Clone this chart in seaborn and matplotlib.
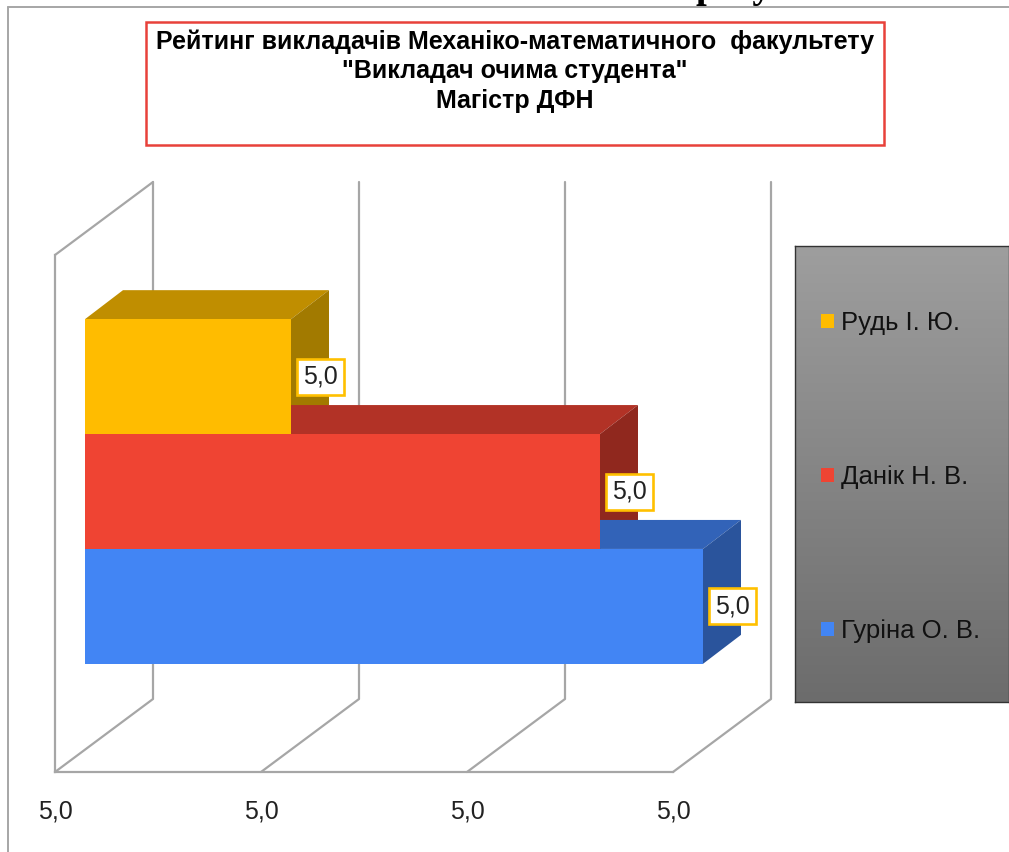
import matplotlib
matplotlib.use("Agg")
import matplotlib.pyplot as plt
import numpy as np
import pandas as pd
import seaborn as sns
from matplotlib.colors import LinearSegmentedColormap
from matplotlib.lines import Line2D
from matplotlib.patches import Patch, Polygon, Rectangle
from matplotlib.transforms import IdentityTransform

teachers = ["Рудь І. Ю.", "Данік Н. В.", "Гуріна О. В."]
ratings = [4.98, 4.995, 5.00]
axis_ticks = [4.97, 4.98, 4.99, 5.00]
front_colors = ["#FFBC00", "#EF4433", "#4285F4"]
top_colors = ["#C08E00", "#B23226", "#3263B8"]
side_colors = ["#A27A00", "#90281E", "#2A549C"]
title_text = 'Рейтинг викладачів Механіко-математичного  факультету\n"Викладач очима студента"\nМагістр ДФН'

W, H = 1009, 852
GRID = "#A6A6A6"
LABEL_EDGE = "#FFC000"

sns.set_theme(style="white")
plt.rcParams["font.family"] = ["Liberation Sans", "DejaVu Sans"]


def box(x0, y0, x1, y1):
    # pixel box measured from the top left -> figure fractions
    return [x0 / W, 1 - y1 / H, (x1 - x0) / W, (y1 - y0) / H]


def fmt(v):
    return f"{v:.1f}".replace(".", ",")


fig = plt.figure(figsize=(W / 100, H / 100), dpi=100, facecolor="white")

# page frame and the cut off heading above it
fig.add_artist(Line2D([8 / W, 1], [1 - 7 / H, 1 - 7 / H], color=GRID, lw=1.4))
fig.add_artist(Line2D([8 / W, 8 / W], [0, 1 - 7 / H], color=GRID, lw=1.4))
fig.text(734 / W, 1 + 2.5 / H, "рсту", family="Liberation Serif", weight="bold",
         fontsize=28, color="black", ha="center", va="baseline")

# title box
fig.add_artist(Rectangle((146 / W, 1 - 145 / H), 738 / W, 123 / H, transform=fig.transFigure,
                         facecolor="white", edgecolor="#E8413A", lw=1.8))
fig.text(515 / W, 1 - 29 / H, title_text, ha="center", va="top", fontsize=18,
         weight="bold", color="black", linespacing=1.3)

# front plane of the chart, holds the axis
ax = fig.add_axes(box(55, 255, 673, 772))
ax.set_xlim(axis_ticks[0], axis_ticks[-1])
ax.set_ylim(0, 1)
ax.patch.set_alpha(0)
ax.set_xticks(axis_ticks)
ax.set_xticklabels([fmt(t) for t in axis_ticks], fontsize=18, color="#222222")
ax.set_yticks([])
ax.tick_params(axis="x", length=0, pad=20)
for side in ["top", "right"]:
    ax.spines[side].set_visible(False)
for side in ["left", "bottom"]:
    ax.spines[side].set_color(GRID)
    ax.spines[side].set_linewidth(1.6)

# bars sit a bit further back than the front plane
df = pd.DataFrame({"teacher": teachers, "rating": ratings})
ax_bar = fig.add_axes(box(85, 233, 703, 750))
ax_bar.patch.set_alpha(0)
sns.barplot(data=df, x="rating", y="teacher", hue="teacher", palette=front_colors,
            width=1, legend=False, saturation=1, linewidth=0, ax=ax_bar, zorder=3)
ax_bar.set_xlim(axis_ticks[0], axis_ticks[-1])
ax_bar.set_ylim(3.25, -1.25)
ax_bar.axis("off")

fig.canvas.draw()

# floor and back wall lines
back_dx, back_dy = 98, 73
for t in axis_ticks:
    x, y = ax.transData.transform((t, 0))
    _, ytop = ax.transData.transform((t, 1))
    ax.add_line(Line2D([x, x + back_dx, x + back_dx], [y, y + back_dy, ytop + back_dy],
                       transform=IdentityTransform(), color=GRID, lw=1.6, clip_on=False, zorder=1))
x, _ = ax.transData.transform((axis_ticks[0], 0))
_, ytop = ax.transData.transform((axis_ticks[0], 1))
ax.add_line(Line2D([x, x + back_dx], [ytop, ytop + back_dy], transform=IdentityTransform(),
                   color=GRID, lw=1.6, clip_on=False, zorder=1))

# fake 3d faces of the bars
depth_x, depth_y = 38, 29
for i, bar in enumerate(ax_bar.patches):
    y0, y1 = bar.get_y(), bar.get_y() + bar.get_height()
    right = bar.get_x() + bar.get_width()
    xl, yt = ax_bar.transData.transform((axis_ticks[0], y0))
    xr, yb = ax_bar.transData.transform((right, y1))
    top = [(xl, yt), (xr, yt), (xr + depth_x, yt + depth_y), (xl + depth_x, yt + depth_y)]
    side = [(xr, yt), (xr + depth_x, yt + depth_y), (xr + depth_x, yb + depth_y), (xr, yb)]
    ax_bar.add_patch(Polygon(top, transform=IdentityTransform(), facecolor=top_colors[i],
                             edgecolor="none", clip_on=False, zorder=1 + i * 0.1))
    ax_bar.add_patch(Polygon(side, transform=IdentityTransform(), facecolor=side_colors[i],
                             edgecolor="none", clip_on=False, zorder=1 + i * 0.1))
    ax_bar.annotate(fmt(ratings[i]), (right, i), xytext=(21.5, 0), textcoords="offset points",
                    ha="center", va="center", fontsize=18, color="#222222", zorder=6,
                    annotation_clip=False,
                    bbox=dict(boxstyle="square,pad=0.24", facecolor="white",
                              edgecolor=LABEL_EDGE, lw=1.9))

# legend panel with grey gradient
leg_ax = fig.add_axes(box(795, 246, 1009, 702))
grad = LinearSegmentedColormap.from_list("panel", ["#9E9E9E", "#6C6C6C"])
leg_ax.imshow(np.linspace(0, 1, 256).reshape(-1, 1), cmap=grad, aspect="auto")
leg_ax.set_xticks([])
leg_ax.set_yticks([])
for s in leg_ax.spines.values():
    s.set_color("#333333")
    s.set_linewidth(1)
handles = [Patch(facecolor=c, edgecolor="none") for c in front_colors]
leg = leg_ax.legend(handles, teachers, loc="upper left", bbox_to_anchor=(0.123, 0.857),
                    borderaxespad=0, borderpad=0, frameon=False, fontsize=18.5,
                    labelspacing=5.06, handlelength=0.5, handleheight=0.5, handletextpad=0.28)
for txt in leg.get_texts():
    txt.set_color("#111111")

fig.savefig("out.png", dpi=100)
